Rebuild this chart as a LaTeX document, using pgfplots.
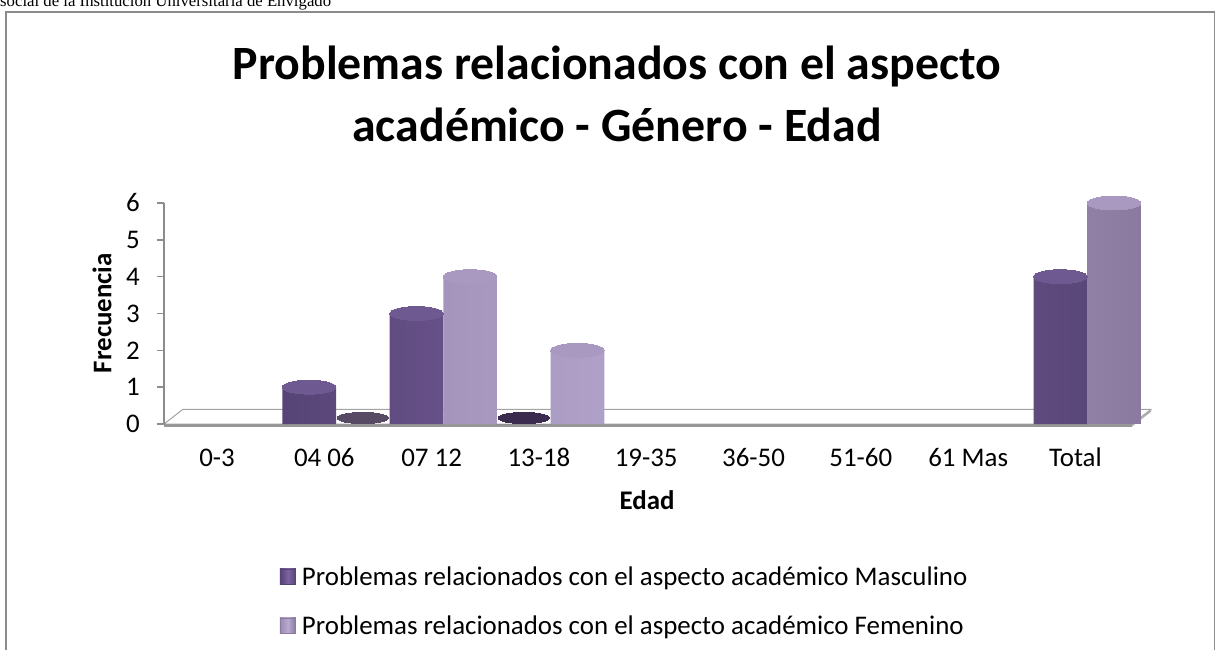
\documentclass[border=0pt]{standalone}
\usepackage{pgfplots}
\pgfplotsset{compat=1.18}
\usepackage{pgfplotstable}
\usepackage{fontspec}
\setmainfont{Carlito}
\newfontfamily\timesfont{Liberation Serif}

\definecolor{mascL}{HTML}{574476}
\definecolor{mascM}{HTML}{7D63A2}
\definecolor{mascR}{HTML}{5A4779}
\definecolor{mascT}{HTML}{6E5A91}
\definecolor{mascZ}{HTML}{3B2B4F}
\definecolor{femL}{HTML}{9D8DB4}
\definecolor{femM}{HTML}{B9AAD1}
\definecolor{femR}{HTML}{8A7AA0}
\definecolor{femT}{HTML}{A999C1}
\definecolor{femZ}{HTML}{574A65}
\definecolor{axgray}{HTML}{8C8C8C}

\pgfplotstableread{
x m f
1 1 0
2 3 4
3 0 2
8 4 6
}\datatable

\begin{document}
\begin{tikzpicture}
\useasboundingbox (0bp,0bp) rectangle (1216bp,650bp);
\draw[axgray, line width=1.2bp] (6bp,-20bp) -- (6bp,638bp) -- (1214.5bp,638bp) -- (1214.5bp,-20bp);
\node[anchor=base west, inner sep=0pt, font=\timesfont\fontsize{16.8}{19}\selectfont] at (0bp,643bp) {social de la Institución Universitaria de Envigado};
\node[anchor=base, inner sep=0pt, font=\bfseries\fontsize{48}{56}\selectfont] at (617bp,570bp) {Problemas relacionados con el aspecto};
\node[anchor=base, inner sep=0pt, font=\bfseries\fontsize{48}{56}\selectfont] at (617bp,508bp) {académico - Género - Edad};

\begin{axis}[
  at={(164bp,226bp)}, anchor=south west,
  scale only axis, width=968bp, height=221bp,
  xmin=-0.603, xmax=8.418, ymin=0, ymax=6,
  clip=false,
  axis line style={draw=none},
  xtick={0,...,8},
  xticklabels={0-3,04 06,07 12,13-18,19-35,36-50,51-60,61 Mas,Total},
  ytick={0,...,6},
  ytick pos=left,
  tick align=outside,
  major tick length=7bp,
  xtick style={draw=none},
  ytick style={draw=axgray, line width=1.5bp},
  /pgf/number format/assume math mode=true,
  ticklabel style={font=\fontsize{27}{32}\selectfont},
  yticklabel style={anchor=east, inner sep=0pt, xshift=-17bp},
  xticklabel style={anchor=base, inner sep=0pt, yshift=-35bp, xshift=-11.7bp},
  xlabel={\bfseries Edad},
  ylabel={\bfseries Frecuencia},
  label style={font=\fontsize{27}{32}\selectfont},
  xlabel style={at={(axis description cs:0.499,-0.344)}, anchor=center, inner sep=0pt},
  ylabel style={at={(axis description cs:-0.064,0.502)}, anchor=center, inner sep=0pt},
  legend cell align=left,
  legend style={at={(axis description cs:0.1198,-0.638)}, anchor=north west,
    draw=none, fill=none, inner sep=0pt, outer sep=0pt, row sep=25bp,
    font=\fontsize{27}{32}\selectfont,
    nodes={inner sep=0pt, text height=21bp, text depth=3bp},
    /tikz/every odd column/.append style={column sep=6bp}},
]
% floor
\fill[white] (axis cs:-0.603,0) -- (axis cs:8.418,0) -- (axis cs:8.595,0.40) -- (axis cs:-0.426,0.40) -- cycle;
\draw[axgray!80, line width=1bp] (axis cs:-0.603,0) -- (axis cs:8.418,0) -- (axis cs:8.595,0.40) -- (axis cs:-0.426,0.40) -- cycle;
\fill[axgray!90] (axis cs:-0.603,0) rectangle (axis cs:8.418,-0.07);
\fill[axgray!70] (axis cs:8.418,0) -- (axis cs:8.595,0.40) -- (axis cs:8.595,0.33) -- (axis cs:8.418,-0.07) -- cycle;
\draw[axgray, line width=1.5bp] (axis cs:-0.603,0) -- (axis cs:-0.603,6);

\addplot[ybar, bar width=0.5, bar shift=-0.25, draw=none,
  left color=mascL, right color=mascR, middle color=mascM,
  legend image code/.code={\fill[mascM] (0bp,-8bp) rectangle (16bp,8bp);
    \draw[mascL, line width=1.2bp] (0.6bp,-7.4bp) rectangle (15.4bp,7.4bp);}]
  table[x=x, y=m]{\datatable};
\addlegendentry{Problemas relacionados con el aspecto académico Masculino}

\addplot[ybar, bar width=0.5, bar shift=0.25, draw=none,
  left color=femL, right color=femR, middle color=femM,
  legend image code/.code={\fill[femM] (0bp,-8bp) rectangle (16bp,8bp);
    \draw[femR, line width=1.2bp] (0.6bp,-7.4bp) rectangle (15.4bp,7.4bp);}]
  table[x=x, y=f]{\datatable};
\addlegendentry{Problemas relacionados con el aspecto académico Femenino}

% cylinder tops
\addplot[forget plot, only marks, mark=*, mark size=26.8bp, color=mascT,
  mark options={draw=mascT, fill=mascT, line width=0pt, yscale=0.26},
  restrict y to domain=0.5:100]
  table[x expr=\thisrow{x}-0.25, y=m]{\datatable};
\addplot[forget plot, only marks, mark=*, mark size=26.8bp, color=femT,
  mark options={draw=femT, fill=femT, line width=0pt, yscale=0.26},
  restrict y to domain=0.5:100]
  table[x expr=\thisrow{x}+0.25, y=f]{\datatable};
% zero values
\addplot[forget plot, only marks, mark=*, mark size=25.5bp, color=mascZ,
  mark options={draw=mascZ, fill=mascZ, line width=0pt, yshift=6bp, yscale=0.22},
  restrict y to domain=-0.1:0.1]
  table[x expr=\thisrow{x}-0.25, y=m]{\datatable};
\addplot[forget plot, only marks, mark=*, mark size=25.5bp, color=femZ,
  mark options={draw=femZ, fill=femZ, line width=0pt, yshift=6bp, yscale=0.22},
  restrict y to domain=-0.1:0.1]
  table[x expr=\thisrow{x}+0.25, y=f]{\datatable};
\end{axis}
\end{tikzpicture}
\end{document}
